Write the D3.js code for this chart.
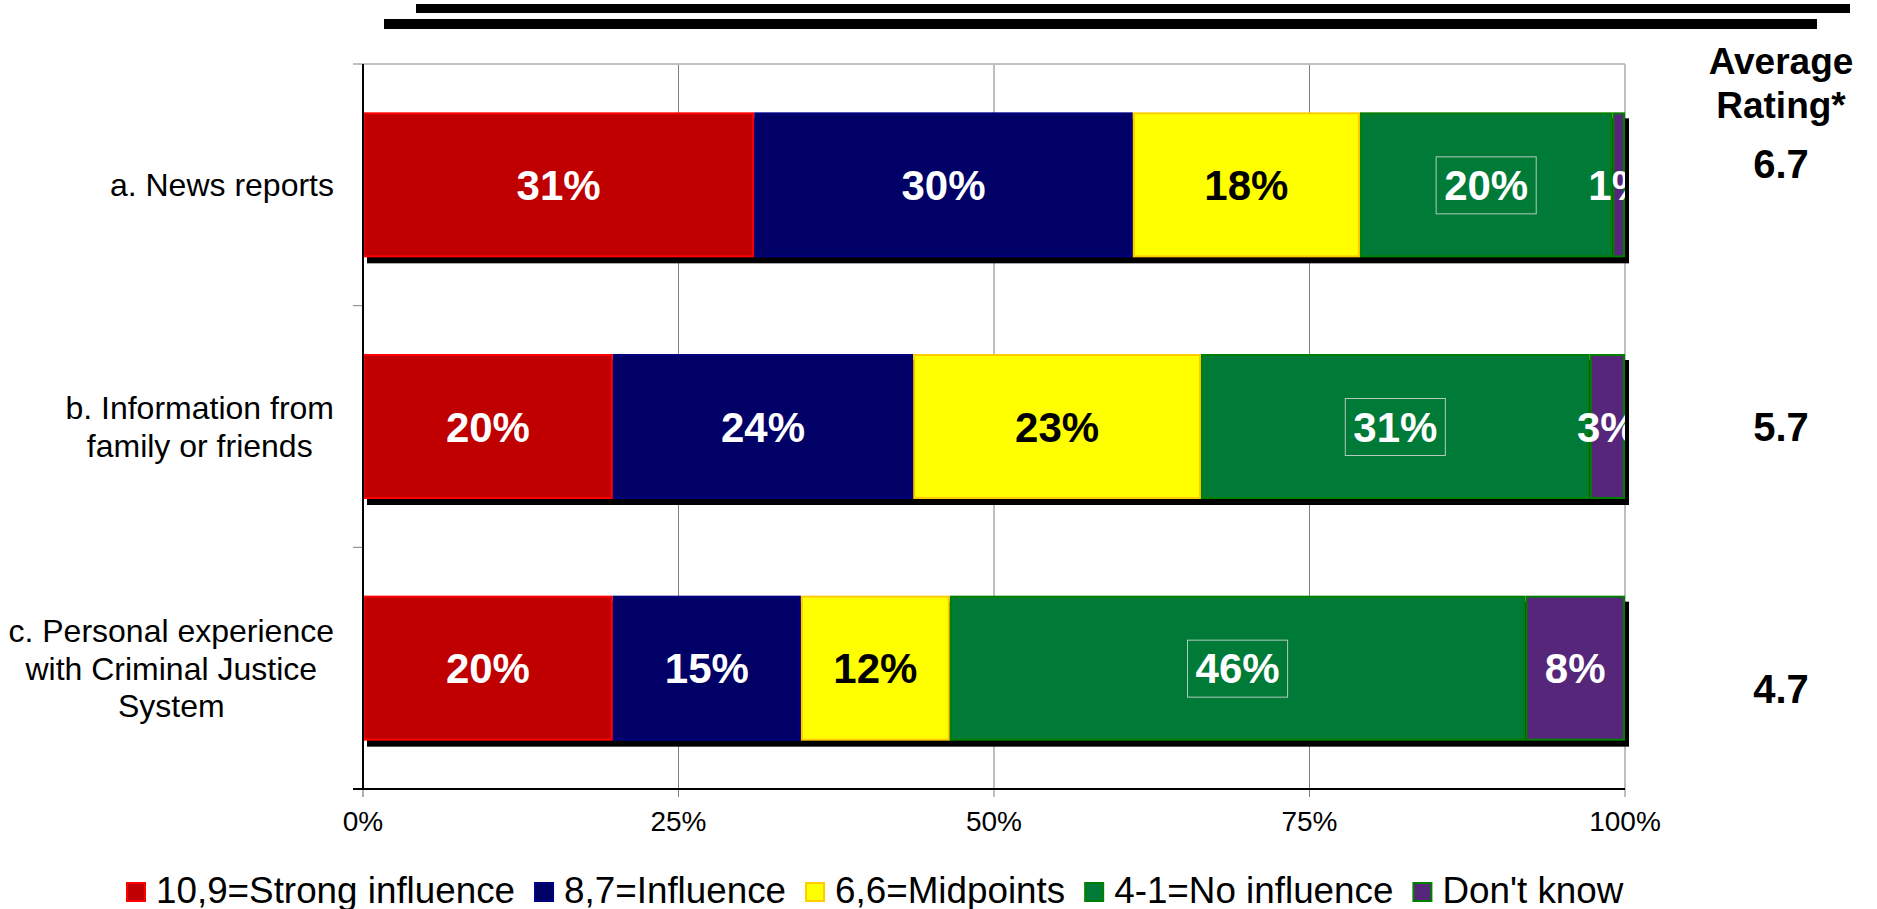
<!DOCTYPE html>
<html>
<head>
<meta charset="utf-8">
<script src="https://cdn.jsdelivr.net/npm/d3@7"></script>
<style>
  html, body { margin: 0; padding: 0; background: #fff; }
  svg { display: block; font-family: "Liberation Sans", Arial, sans-serif; }
</style>
</head>
<body>
<svg width="1877" height="909"></svg>
<script>
// chart values
var categories = ['a', 'b', 'c'];
var categoryLines = [
    ['a. News reports'],
    ['b. Information from', 'family or friends'],
    ['c. Personal experience', 'with Criminal Justice', 'System']
];
var seriesNames = ['10,9=Strong influence', '8,7=Influence', '6,6=Midpoints', '4-1=No influence', "Don't know"];
var strong = [31, 19.8, 19.8];
var influence = [30, 23.8, 14.9];
var midpoints = [18, 22.8, 11.8];
var noInfluence = [20, 30.8, 45.6];
var dontKnow = [1, 2.8, 7.9];
var ratings = ['6.7', '5.7', '4.7'];
var xTicks = [0, 25, 50, 75, 100];

var fills = ['#c00000', '#000066', '#ffff00', '#007a37', '#55267a'];
var strokes = ['#ff0000', '#000080', '#ffcc00', '#008000', '#008000'];
var labelColors = ['#fff', '#fff', '#000', '#fff', '#fff'];

(function() {
    var rows = categories.map(function(c, i) {
        return { cat: c, s0: strong[i], s1: influence[i], s2: midpoints[i], s3: noInfluence[i], s4: dontKnow[i] };
    });
    var keys = ['s0', 's1', 's2', 's3', 's4'];
    var stacked = d3.stack().keys(keys)(rows);

    var svg = d3.select('svg');
    var pLeft = 363, pRight = 1625, pTop = 64, pBottom = 789;

    var x = d3.scaleLinear().domain([0, 100]).range([pLeft, pRight]);
    var y = d3.scaleBand().domain(categories).range([pTop, pBottom])
        .paddingInner(0.4).paddingOuter(0.2);

    // decorative double rule at the top
    svg.append('rect').attr('x', 416).attr('y', 4).attr('width', 1434).attr('height', 9).attr('fill', '#000');
    svg.append('rect').attr('x', 384).attr('y', 19).attr('width', 1433).attr('height', 10).attr('fill', '#000');

    var defs = svg.append('defs');
    defs.append('clipPath').attr('id', 'plotClip').append('rect')
        .attr('x', pLeft).attr('y', 0).attr('width', pRight - pLeft + 4).attr('height', 909);
    defs.append('clipPath').attr('id', 'labelClip').append('rect')
        .attr('x', pLeft).attr('y', 0).attr('width', pRight - pLeft).attr('height', 909);

    // grid
    var grid = svg.append('g');
    grid.selectAll('line.v').data(xTicks.slice(1)).enter().append('line')
        .attr('x1', function(d) { return x(d); }).attr('x2', function(d) { return x(d); })
        .attr('y1', pTop).attr('y2', pBottom + 8)
        .attr('stroke', '#808080').attr('stroke-width', 1);
    grid.append('line').attr('x1', pLeft).attr('x2', pLeft).attr('y1', pBottom).attr('y2', pBottom + 8)
        .attr('stroke', '#b0b0b0').attr('stroke-width', 2);
    grid.append('line').attr('x1', pLeft - 10).attr('x2', pRight).attr('y1', pTop).attr('y2', pTop)
        .attr('stroke', '#c0c0c0').attr('stroke-width', 2);

    // category ticks
    var bandEdges = categories.slice(1).map(function(c) { return y(c) - y.step() * y.paddingInner() / 2; });
    grid.selectAll('line.yt').data(bandEdges).enter().append('line')
        .attr('x1', pLeft - 10).attr('x2', pLeft)
        .attr('y1', function(d) { return d; }).attr('y2', function(d) { return d; })
        .attr('stroke', '#808080').attr('stroke-width', 1);

    // shadows
    svg.append('g').attr('clip-path', 'url(#plotClip)')
        .selectAll('rect').data(categories).enter().append('rect')
        .attr('x', x(0) + 4).attr('width', x(100) - x(0))
        .attr('y', function(d) { return y(d) + 6; })
        .attr('height', y.bandwidth())
        .attr('fill', '#000');

    // bars
    var layers = svg.append('g').selectAll('g').data(stacked).enter().append('g')
        .attr('fill', function(d, i) { return fills[i]; })
        .attr('stroke', function(d, i) { return strokes[i]; });
    layers.selectAll('rect').data(function(d) { return d; }).enter().append('rect')
        .attr('x', function(d) { return x(d[0]) + 1; })
        .attr('width', function(d) { return Math.max(0, x(d[1]) - x(d[0]) - 2); })
        .attr('y', function(d) { return y(d.data.cat) + 1; })
        .attr('height', y.bandwidth() - 2)
        .attr('stroke-width', 2);

    // axes lines
    svg.append('line').attr('x1', pLeft).attr('x2', pLeft).attr('y1', pTop).attr('y2', pBottom)
        .attr('stroke', '#000').attr('stroke-width', 2);
    svg.append('line').attr('x1', pLeft - 10).attr('x2', pRight).attr('y1', pBottom).attr('y2', pBottom)
        .attr('stroke', '#000').attr('stroke-width', 2);

    // segment labels
    var fmt = d3.format('.0f');
    var labelG = svg.append('g').attr('clip-path', 'url(#labelClip)');
    stacked.forEach(function(layer, i) {
        layer.forEach(function(d) {
            var cx = (x(d[0]) + x(d[1])) / 2;
            var cy = y(d.data.cat) + y.bandwidth() / 2;
            var t = labelG.append('text')
                .attr('x', cx).attr('y', cy + 15)
                .attr('text-anchor', 'middle')
                .attr('font-size', 42).attr('font-weight', 'bold')
                .attr('fill', labelColors[i])
                .text(fmt(d[1] - d[0]) + '%');
            if (i === 3) {
                var w = t.node().getComputedTextLength();
                labelG.append('rect')
                    .attr('x', cx - w / 2 - 8).attr('y', cy - 28)
                    .attr('width', w + 16).attr('height', 57)
                    .attr('fill', 'none').attr('stroke', '#e0e0e0')
                    .attr('stroke-opacity', 0.8).attr('stroke-width', 1);
            }
        });
    });

    // x tick labels
    svg.append('g').selectAll('text').data(xTicks).enter().append('text')
        .attr('x', function(d) { return x(d); }).attr('y', 831)
        .attr('text-anchor', 'middle').attr('font-size', 28).attr('fill', '#000')
        .text(function(d) { return d + '%'; });

    // category labels, block right-aligned, lines centered
    var catG = svg.append('g');
    categories.forEach(function(c, i) {
        var lines = categoryLines[i];
        var cy = y(c) + y.bandwidth() / 2;
        var g = catG.append('g');
        var texts = lines.map(function(l, j) {
            return g.append('text')
                .attr('y', cy + (j - (lines.length - 1) / 2) * 37.5 + 11.5)
                .attr('text-anchor', 'middle').attr('font-size', 32).attr('fill', '#000')
                .text(l);
        });
        var maxW = d3.max(texts, function(t) { return t.node().getComputedTextLength(); });
        texts.forEach(function(t) { t.attr('x', 334 - maxW / 2); });
    });

    // average rating column
    var rx = 1781;
    svg.append('text').attr('x', rx).attr('y', 74).attr('text-anchor', 'middle')
        .attr('font-size', 37).attr('font-weight', 'bold').text('Average');
    svg.append('text').attr('x', rx).attr('y', 118).attr('text-anchor', 'middle')
        .attr('font-size', 37).attr('font-weight', 'bold').text('Rating*');
    svg.append('g').selectAll('text').data(ratings).enter().append('text')
        .attr('x', rx).attr('y', function(d, i) { return 178 + i * 262.5; })
        .attr('text-anchor', 'middle').attr('font-size', 40).attr('font-weight', 'bold')
        .text(function(d) { return d; });

    // legend
    var legend = svg.append('g');
    var lx = 126;
    seriesNames.forEach(function(name, i) {
        legend.append('rect').attr('x', lx + 1).attr('y', 883).attr('width', 18).attr('height', 18)
            .attr('fill', fills[i]).attr('stroke', strokes[i]).attr('stroke-width', 2);
        var t = legend.append('text').attr('x', lx + 30).attr('y', 903)
            .attr('font-size', 36.8).attr('fill', '#000').text(name);
        lx += 30 + t.node().getComputedTextLength() + 19;
    });
})();
</script>
</body>
</html>
